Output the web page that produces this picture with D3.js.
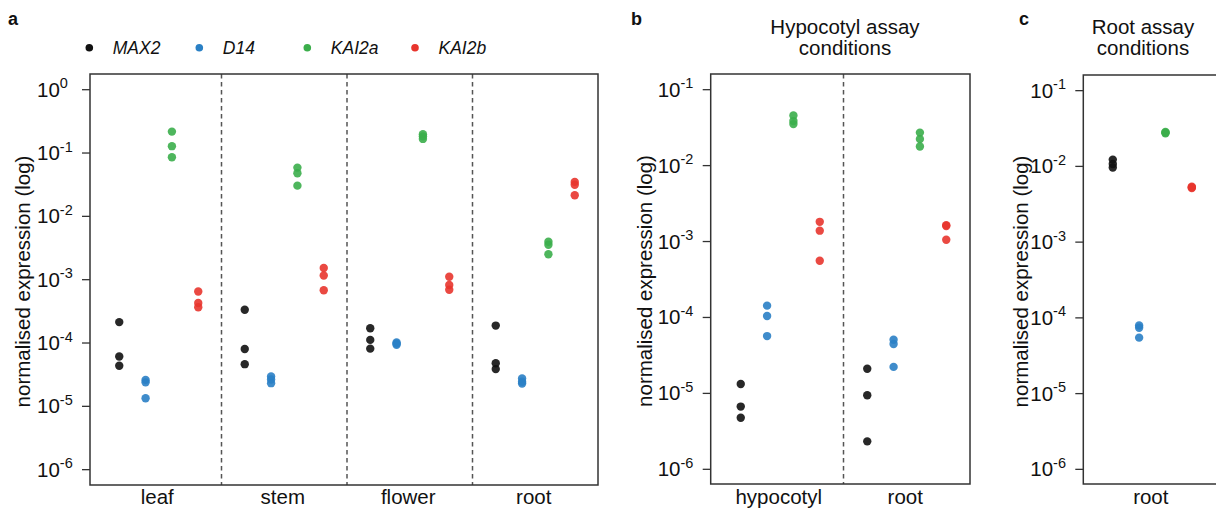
<!DOCTYPE html>
<html><head><meta charset="utf-8">
<script src="https://cdn.jsdelivr.net/npm/d3@7"></script>
<style>
body{margin:0;background:#fff;}
svg{display:block;font-family:"Liberation Sans",Arial,sans-serif;}
</style></head>
<body><svg id="c" width="1216" height="509"></svg>
<script>
// ---------- data ----------
const genes = ["MAX2", "D14", "KAI2a", "KAI2b"];
const geneColors = ["#111111", "#2a80c5", "#3bae4b", "#e8352d"];
const expTicks = [0, -1, -2, -3, -4, -5, -6];
const expTicksBC = [-1, -2, -3, -4, -5, -6];

// panel a: tissues
const tissuesA = ["leaf", "stem", "flower", "root"];
const max2A = [[2.1e-4, 6.0e-5, 4.3e-5], [3.3e-4, 7.9e-5, 4.55e-5], [1.68e-4, 1.1e-4, 8.0e-5], [1.85e-4, 4.7e-5, 3.8e-5]];
const d14A = [[2.57e-5, 2.35e-5, 1.32e-5], [2.9e-5, 2.6e-5, 2.28e-5], [1.0e-4, 9.6e-5, 9.2e-5], [2.7e-5, 2.4e-5, 2.25e-5]];
const kai2aA = [[0.214, 0.126, 0.0843], [0.0578, 0.0471, 0.030], [0.195, 0.18, 0.164], [3.9e-3, 3.5e-3, 2.47e-3]];
const kai2bA = [[6.4e-4, 4.2e-4, 3.6e-4], [1.5e-3, 1.14e-3, 6.7e-4], [1.09e-3, 8.1e-4, 6.8e-4], [0.0344, 0.031, 0.0212]];

// panel b: hypocotyl assay conditions
const tissuesB = ["hypocotyl", "root"];
const max2B = [[1.31e-5, 6.6e-6, 4.7e-6], [2.08e-5, 9.3e-6, 2.3e-6]];
const d14B = [[1.41e-4, 1.03e-4, 5.6e-5], [5.0e-5, 4.4e-5, 2.2e-5]];
const kai2aB = [[0.045, 0.038, 0.0347], [0.0268, 0.022, 0.0176]];
const kai2bB = [[1.79e-3, 1.37e-3, 5.5e-4], [1.62e-3, 1.58e-3, 1.04e-3]];

// panel c: root assay conditions
const tissuesC = ["root"];
const max2C = [[0.0121, 0.0106, 0.0095]];
const d14C = [[7.8e-5, 7.3e-5, 5.4e-5]];
const kai2aC = [[0.028, 0.0275, 0.027]];
const kai2bC = [[5.3e-3, 5.2e-3, 5.1e-3]];

// ---------- drawing ----------
const svg = d3.select("#c");
const FONT = 20.5;

function panel(cfg) {
  const g = svg.append("g");
  const y = d3.scaleLog().domain(cfg.yDomain).range([cfg.bottom, cfg.top]);
  const x = d3.scaleBand().domain(cfg.tissues).range(cfg.bandRange);
  const off = d3.scalePoint().domain(genes).range([-39.5, 39.5]);

  // dividers
  cfg.tissues.slice(1).forEach(t => {
    g.append("line").attr("x1", x(t)).attr("x2", x(t))
      .attr("y1", cfg.top).attr("y2", cfg.bottom)
      .attr("stroke", "#555").attr("stroke-width", 1.5).attr("stroke-dasharray", "4.5,3.5");
  });

  // y axis
  const ax = g.append("g").attr("transform", `translate(${cfg.left},0)`)
    .call(d3.axisLeft(y).tickValues(cfg.ticks.map(e => Math.pow(10, e))).tickSize(8).tickFormat(""));
  ax.select(".domain").remove();
  ax.selectAll(".tick line").attr("stroke", "#333").attr("stroke-width", 1.3);
  cfg.ticks.forEach(e => {
    const t = g.append("text").attr("x", cfg.left - 53).attr("y", y(Math.pow(10, e)) + 7.5)
      .attr("font-size", FONT).attr("fill", "#111");
    t.append("tspan").text("10");
    t.append("tspan").attr("dy", -8.5).attr("font-size", 14.5).text(e === 0 ? "0" : "-" + Math.abs(e));
  });

  // axis title
  g.append("text").attr("transform", `translate(${cfg.left - cfg.titleOff},${(cfg.top + cfg.bottom) / 2 + 2}) rotate(-90)`)
    .attr("text-anchor", "middle").attr("dy", "0.35em").attr("font-size", FONT).attr("fill", "#111")
    .text("normalised expression (log)");

  // category labels
  cfg.tissues.forEach(t => {
    g.append("text").attr("x", x(t) + x.bandwidth() / 2 - 1.5).attr("y", 504)
      .attr("text-anchor", "middle").attr("font-size", FONT).attr("fill", "#111").text(t);
  });

  // points
  cfg.series.forEach((arr, gi) => {
    arr.forEach((vals, ti) => {
      vals.forEach(v => {
        g.append("circle")
          .attr("cx", x(cfg.tissues[ti]) + x.bandwidth() / 2 + off(genes[gi]))
          .attr("cy", y(v)).attr("r", 4.2)
          .attr("fill", geneColors[gi]).attr("fill-opacity", 0.9);
      });
    });
  });

  // box
  g.append("rect").attr("x", cfg.left).attr("y", cfg.top)
    .attr("width", cfg.right - cfg.left).attr("height", cfg.bottom - cfg.top)
    .attr("fill", "none").attr("stroke", "#333").attr("stroke-width", 1.5);

  // panel letter
  g.append("text").attr("x", cfg.letterX).attr("y", 25).attr("font-size", 18)
    .attr("font-weight", "bold").attr("fill", "#111").text(cfg.letter);

  // title
  if (cfg.title) {
    cfg.title.forEach((line, i) => {
      g.append("text").attr("x", cfg.titleX).attr("y", 34 + i * 21)
        .attr("text-anchor", "middle").attr("font-size", FONT).attr("fill", "#111").text(line);
    });
  }
}

panel({
  letter: "a", letterX: 8, tissues: tissuesA, series: [max2A, d14A, kai2aA, kai2bA],
  left: 90, right: 598, top: 74, bottom: 485, bandRange: [96, 598],
  yDomain: [Math.pow(10, -6.25), Math.pow(10, 0.24)], ticks: expTicks, titleOff: 67
});
panel({
  letter: "b", letterX: 631, tissues: tissuesB, series: [max2B, d14B, kai2aB, kai2bB],
  left: 710.7, right: 970, top: 74, bottom: 484, bandRange: [717, 970],
  yDomain: [Math.pow(10, -6.2), Math.pow(10, -0.8)], ticks: expTicksBC, titleOff: 66,
  title: ["Hypocotyl assay", "conditions"], titleX: 845
});
panel({
  letter: "c", letterX: 1019, tissues: tissuesC, series: [max2C, d14C, kai2aC, kai2bC],
  left: 1083.3, right: 1230, top: 75, bottom: 484, bandRange: [1089, 1215.6],
  yDomain: [Math.pow(10, -6.2), Math.pow(10, -0.8)], ticks: expTicksBC, titleOff: 62,
  title: ["Root assay", "conditions"], titleX: 1143
});

// legend
const legX = [89.3, 199.3, 307.3, 415];
const leg = svg.append("g");
genes.forEach((gname, i) => {
  leg.append("circle").attr("cx", legX[i]).attr("cy", 47.7).attr("r", 3.8).attr("fill", geneColors[i]);
  leg.append("text").attr("x", legX[i] + 23.5).attr("y", 54).attr("font-size", 17.5)
    .attr("font-style", "italic").attr("fill", "#111").text(gname);
});
</script></body></html>
